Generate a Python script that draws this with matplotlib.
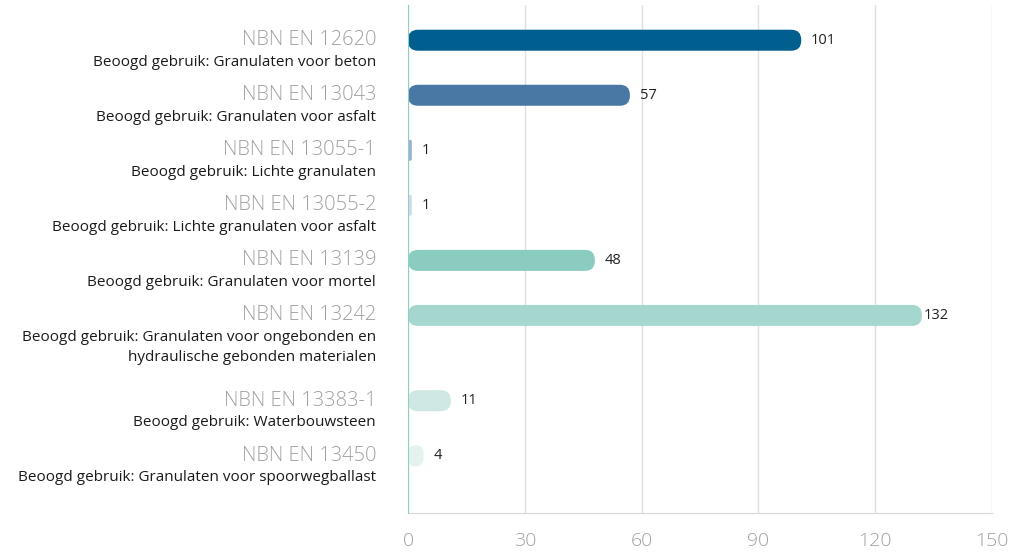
import matplotlib
matplotlib.use("Agg")
import matplotlib.pyplot as plt
from matplotlib.patches import FancyBboxPatch
import numpy as np

plt.rcParams['font.family'] = ['Open Sans', 'DejaVu Sans']

codes = ["NBN EN 12620", "NBN EN 13043", "NBN EN 13055-1", "NBN EN 13055-2",
         "NBN EN 13139", "NBN EN 13242", "NBN EN 13383-1", "NBN EN 13450"]
uses = ["Beoogd gebruik: Granulaten voor beton",
        "Beoogd gebruik: Granulaten voor asfalt",
        "Beoogd gebruik: Lichte granulaten",
        "Beoogd gebruik: Lichte granulaten voor asfalt",
        "Beoogd gebruik: Granulaten voor mortel",
        "Beoogd gebruik: Granulaten voor ongebonden en\nhydraulische gebonden materialen",
        "Beoogd gebruik: Waterbouwsteen",
        "Beoogd gebruik: Granulaten voor spoorwegballast"]
values = [101, 57, 1, 1, 48, 132, 11, 4]
colors = ["#015f8f", "#4a78a5", "#9fb2d6", "#d3dbea", "#8accc0", "#a6d7cf", "#cfe8e3", "#e5f3f0"]
xticks = [0, 30, 60, 90, 120, 150]

fig = plt.figure(figsize=(10.28, 5.52), dpi=100)
ax = fig.add_axes([408/1028, 1-513/552, 584/1028, 508/552])

# row positions: rows with multi-line labels take extra room
nlines = [u.count("\n") + 1 for u in uses]
heights = [1 + 0.55*(n-1) for n in nlines]
ypos = np.concatenate([[0], np.cumsum(heights[:-1])])

ylim_top = -0.64
ylim_bot = ypos[-1] + 1.04
ax.set_ylim(ylim_bot, ylim_top)
ax.set_xlim(0, 150)

# pixel scales
x_per_px = 150/584
y_per_px = (ylim_bot - ylim_top)/508
aspect = y_per_px / x_per_px
bar_h = 21 * y_per_px

for y, v, c in zip(ypos, values, colors):
    w_px = v / x_per_px
    r_px = min(10, w_px/2)
    p = FancyBboxPatch((0, y - bar_h/2), v, bar_h,
                       boxstyle=f"round,pad=0,rounding_size={r_px*x_per_px}",
                       mutation_aspect=aspect, facecolor=c, edgecolor='none', zorder=3)
    ax.add_patch(p)
    ax.annotate(str(v), xy=(v, y), xytext=(7 if v < 130 else 1, 0), textcoords='offset points',
                va='center', ha='left', fontsize=10.5, color='#222222', zorder=4)

for y, code, use in zip(ypos, codes, uses):
    ax.annotate(code, xy=(0, y), xycoords=('axes fraction', 'data'),
                xytext=(-23, 0), textcoords='offset points', ha='right', va='center',
                fontsize=14.5, color='#a0a0a0', fontweight='light')
    ax.annotate(use, xy=(0, y), xycoords=('axes fraction', 'data'),
                xytext=(-23, -10.5), textcoords='offset points', ha='right', va='top',
                multialignment='right', fontsize=11, color='#1a1a1a', linespacing=1.5)

ax.set_xticks(xticks)
ax.set_xticklabels([str(t) for t in xticks])
ax.tick_params(axis='x', length=0, pad=14, labelsize=14, labelcolor='#a0a0a0')
for lab in ax.get_xticklabels():
    lab.set_fontweight('light')
ax.set_yticks([])
ax.grid(axis='x', color='#e0e0e0', linewidth=1, zorder=0)
for s in ['top', 'right']:
    ax.spines[s].set_visible(False)
ax.spines['bottom'].set_color('#d6d6d6')
ax.spines['left'].set_color('#8fd0c2')
ax.spines['left'].set_zorder(5)

fig.savefig("out.png", dpi=100)
